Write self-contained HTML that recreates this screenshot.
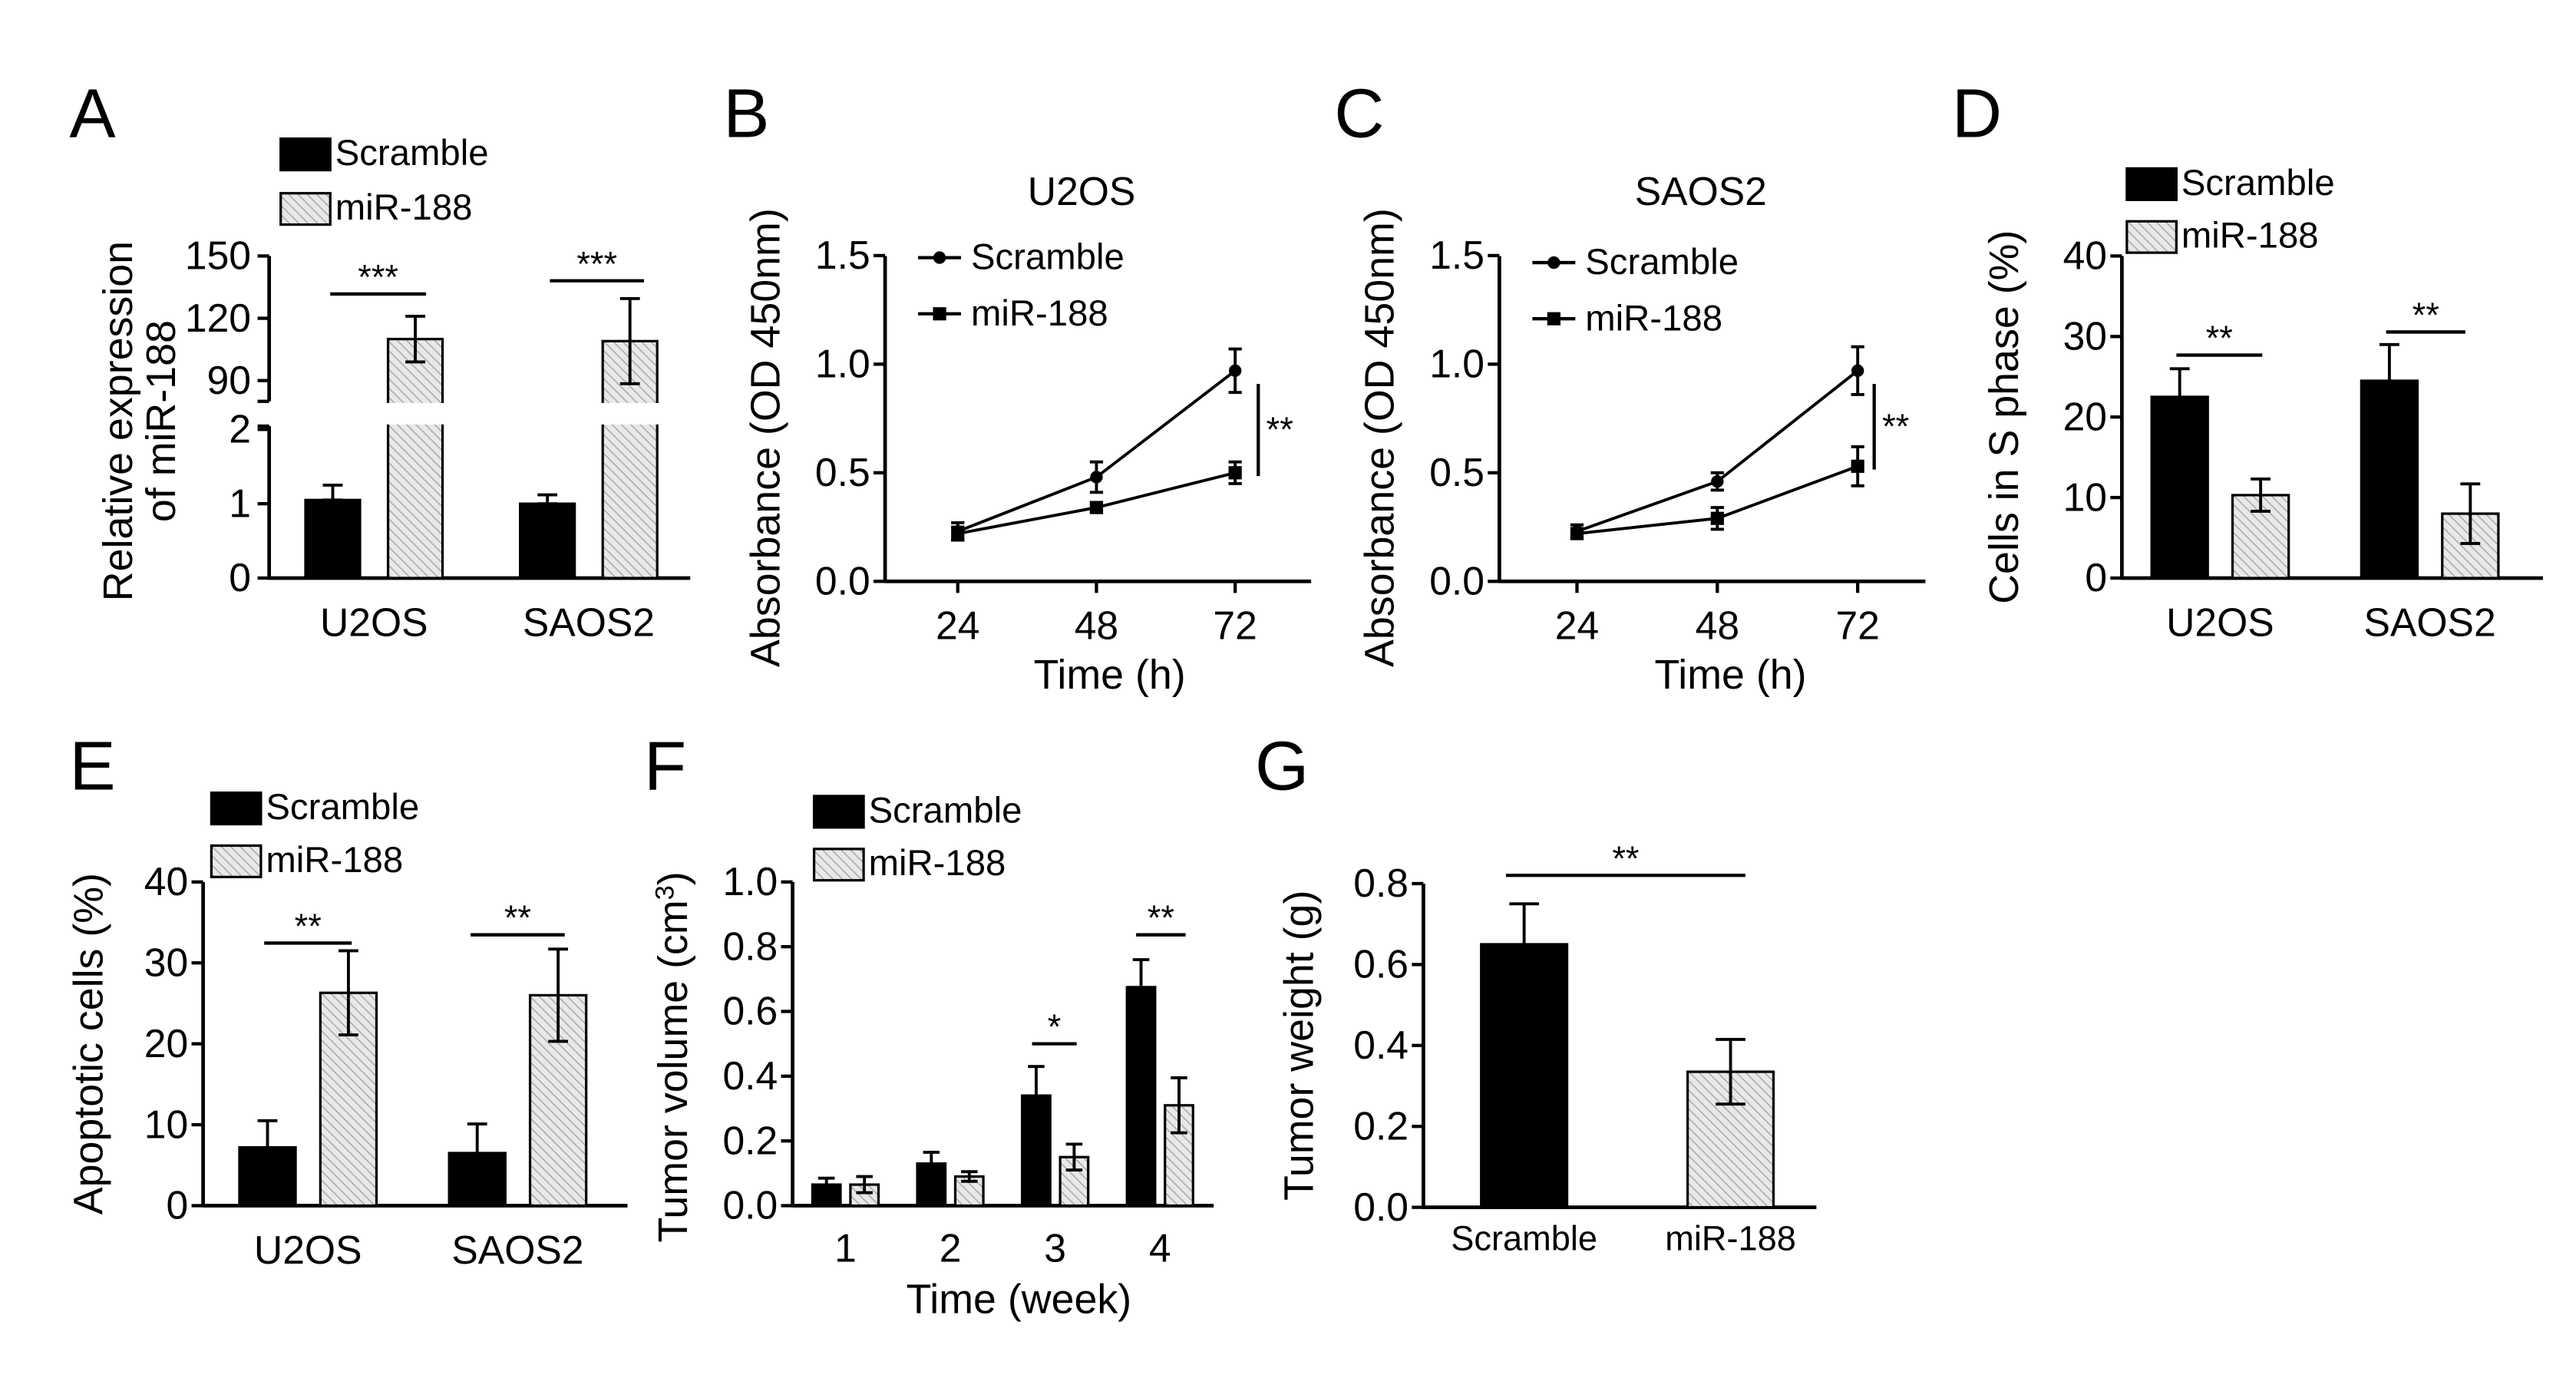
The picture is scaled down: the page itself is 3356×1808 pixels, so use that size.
<!DOCTYPE html>
<html><head><meta charset="utf-8"><style>
html,body{margin:0;padding:0;background:#fff;}
svg{display:block;font-family:"Liberation Sans",Arial,sans-serif;}
</style></head><body>
<svg id="fig" width="3356" height="1808" viewBox="0 0 1560 840.4" preserveAspectRatio="none" xmlns="http://www.w3.org/2000/svg">
<defs>
<pattern id="hatch" width="4" height="4" patternUnits="userSpaceOnUse" patternTransform="rotate(-45)">
<rect width="4" height="4" fill="#e8e8e8"/><line x1="0" y1="0" x2="0" y2="4" stroke="#a8a8a8" stroke-width="1.4"/>
</pattern>
</defs>
</svg>
<script>
// ---- data ----
const aGroups=["U2OS","SAOS2"];
const aScr=[1.05,1.0], aScrErr=[0.2,0.12];
const aMir=[110,109], aMirErr=[11,20.5];
const bTimes=["24","48","72"];
const bScr=[0.23,0.48,0.97], bScrErr=[0.04,0.07,0.1];
const bMir=[0.22,0.34,0.5], bMirErr=[0.03,0.02,0.05];
const cScr=[0.23,0.46,0.97], cScrErr=[0.03,0.04,0.11];
const cMir=[0.22,0.29,0.53], cMirErr=[0.02,0.05,0.09];
const odTicks=["0.0","0.5","1.0","1.5"];
const dScr=[22.5,24.5], dScrErr=[3.5,4.5];
const dMir=[10.3,8.0], dMirErr=[2.0,3.7];
const pctTicks=[0,10,20,30,40];
const eScr=[7.2,6.5], eScrErr=[3.3,3.6];
const eMir=[26.3,26.0], eMirErr=[5.2,5.7];
const fWeeks=["1","2","3","4"];
const fScr=[0.065,0.13,0.34,0.675], fScrErr=[0.02,0.035,0.09,0.085];
const fMir=[0.065,0.09,0.15,0.31], fMirErr=[0.025,0.015,0.04,0.085];
const fTicks=["0.0","0.2","0.4","0.6","0.8","1.0"];
const gLabels=["Scramble","miR-188"];
const gVals=[0.65,0.335], gErr=[0.1,0.08];
const gTicks=["0.0","0.2","0.4","0.6","0.8"];

const TF=24, AF=25, LF=22;
const svg=document.getElementById('fig');
const NS="http://www.w3.org/2000/svg";
function mk(tag,attrs,parent){const e=document.createElementNS(NS,tag);for(const k in attrs)e.setAttribute(k,attrs[k]);(parent||svg).appendChild(e);return e;}
function txt(s,x,y,size,anchor,parent,rot){const t=mk('text',{x:x,y:y,'font-size':size,'text-anchor':anchor||'middle',fill:'#000'},parent);if(rot)t.setAttribute('transform',`rotate(-90 ${x} ${y})`);t.textContent=s;return t;}
function line(x1,y1,x2,y2,w,parent){return mk('line',{x1,y1,x2,y2,stroke:'#000','stroke-width':w||2},parent);}
function errbar(x,y1,y2,cap,parent){line(x,y1,x,y2,1.8,parent);line(x-cap,y1,x+cap,y1,1.8,parent);line(x-cap,y2,x+cap,y2,1.8,parent);}
function panel(name){const g=mk('g',{});return g;}
function letter(s,x,y){const t=txt(s,x,y,42,'start');}
function legendBars(g,x,y1,y2,fs){
 const r1=mk('rect',{x:x,y:y1-16,width:30,height:19,fill:'#000',stroke:'#000','stroke-width':1.5},g);
 
 const t1=txt('Scramble',x+33,y1,fs,'start',g);
 const r2=mk('rect',{x:x,y:y2-16,width:30,height:19,fill:'url(#hatch)',stroke:'#000','stroke-width':1.5},g);
 
 const t2=txt('miR-188',x+33,y2,fs,'start',g);
}
function bar(g,x,w,ytop,ybase,hatched,name){const r=mk('rect',{x:x,y:ytop,width:w,height:ybase-ytop,fill:hatched?'url(#hatch)':'#000',stroke:'#000','stroke-width':1.5},g);return r;}
function sig(g,x1,x2,y,s){line(x1,y,x2,y,2,g);const t=txt(s,(x1+x2)/2,y-3,21,'middle',g);}
function yAxis(g,x,yTop,yBot,ticks,yFn,fs){line(x,yTop,x,yBot,2.2,g);ticks.forEach(t=>{const y=yFn(+t);line(x-7,y,x,y,2,g);const l=txt(String(t),x-9,y+8,fs,'end',g);});}

// ---- Panel A ----
(function(){
 const g=panel('panel-a');letter('A',42,83);
 const x0=163, base=350;
 const yLow=v=>base-v*45;
 const yHigh=v=>243-(v-80)*(243-155)/70;
 const ax=mk('g',{},g);
 line(x0,258,x0,base+1,2.2,ax);line(x0,155,x0,243,2.2,ax);
 line(x0-7,243,x0,243,2,ax);line(x0-7,258,x0,258,2,ax);
 [0,1,2].forEach(v=>{const y=yLow(v);line(x0-7,y,x0,y,2,ax);txt(String(v),x0-11,y+8,TF,'end',ax);});
 [90,120,150].forEach(v=>{const y=yHigh(v);line(x0-7,y,x0,y,2,ax);txt(String(v),x0-11,y+8,TF,'end',ax);});
 line(x0,base,418,base,2.2,g);
 const gx=[185,315];
 aGroups.forEach((nm,i)=>{
  const sx=gx[i], mx=gx[i]+50, w=33;
  bar(g,sx,w,yLow(aScr[i]),base,false,'bar-scramble-'+nm.toLowerCase());
  errbar(sx+w/2,yLow(aScr[i]+aScrErr[i]),yLow(aScr[i]),6,g);
  bar(g,mx,w,yHigh(aMir[i]),base,true,'bar-mir188-'+nm.toLowerCase());
  mk('rect',{x:mx-1,y:244,width:w+2,height:13,fill:'#fff'},g);
  errbar(mx+w/2,yHigh(aMir[i]+aMirErr[i]),yHigh(aMir[i]-aMirErr[i]),6,g);
  const l=txt(nm,(sx+mx+w)/2,385,TF,'middle',g);
 });
 sig(g,200,258,178,'***');sig(g,333,390,170,'***');
 legendBars(g,170,100,133,LF);
 const y1=txt('Relative expression',80,255,AF,'middle',g,true);
 txt('of miR-188',106,255,AF,'middle',g,true);
})();

// ---- Line panels B, C ----
function linePanel(name,L,x0,xt,title,titleX,scr,scrE,mir,mirE,brX,legY1,legY2){
 const g=panel(name);
 const base=352, y=v=>base-v*131.5;
 const ax=mk('g',{},g);
 yAxis(ax,x0,155,base+1,odTicks,y,TF);
 line(x0,base,x0+258,base,2.2,g);
 const xs=i=>xt[0]+i*(xt[1]-xt[0]);
 bTimes.forEach((t,i)=>{line(xs(i),base,xs(i),base+7,2,g);const l=txt(t,xs(i),387,TF,'middle',g);});
 const xt1=txt('Time (h)',(xs(0)+xs(2))/2+8,417,AF,'middle',g);
 const yt=txt('Absorbance (OD 450nm)',x0-64,265,AF,'middle',g,true);
 const tt=txt(title,titleX,124,TF,'middle',g);
 const p1=mk('polyline',{points:scr.map((v,i)=>xs(i)+','+y(v)).join(' '),fill:'none',stroke:'#000','stroke-width':1.8},g);
 
 const p2=mk('polyline',{points:mir.map((v,i)=>xs(i)+','+y(v)).join(' '),fill:'none',stroke:'#000','stroke-width':1.8},g);
 
 scr.forEach((v,i)=>{errbar(xs(i),y(v+scrE[i]),y(v-scrE[i]),4,g);const c=mk('circle',{cx:xs(i),cy:y(v),r:3.8,fill:'#000'},g);});
 mir.forEach((v,i)=>{errbar(xs(i),y(v+mirE[i]),y(v-mirE[i]),4,g);const r=mk('rect',{x:xs(i)-4,y:y(v)-4,width:8,height:8,fill:'#000'},g);});
 line(brX,y(scr[2])+8,brX,y(mir[2])+2,2,g);txt('**',brX+13,y((scr[2]+mir[2])/2)+12,21,'middle',g);
 const lx=x0+20;
 line(lx,legY1-7,lx+26,legY1-7,2,g);mk('circle',{cx:lx+13,cy:legY1-7,r:3.8,fill:'#000'},g);
 const l1=txt('Scramble',lx+32,legY1,LF,'start',g);
 line(lx,legY2-7,lx+26,legY2-7,2,g);mk('rect',{x:lx+9,y:legY2-11,width:8,height:8,fill:'#000'},g);
 const l2=txt('miR-188',lx+32,legY2,LF,'start',g);
 letter(L,L==='B'?438:808,83);
}
linePanel('panel-b','B',536,[580,664],'U2OS',655,bScr,bScrErr,bMir,bMirErr,762,163,197);
linePanel('panel-c','C',908,[955,1040],'SAOS2',1030,cScr,cScrErr,cMir,cMirErr,1135,166,200);

// ---- grouped bar panels D, E ----
function groupPanel(name,L,lx,ly,x0,base,top,xEnd,scr,scrE,mir,mirE,gx,w,title,titleX,sigs,leg){
 const g=panel(name);letter(L,lx,ly);
 const y=v=>base-v*(base-top)/40;
 const ax=mk('g',{},g);
 yAxis(ax,x0,top,base+1,pctTicks,y,TF);
 line(x0,base,xEnd,base,2.2,g);
 aGroups.forEach((nm,i)=>{
  const sx=gx[i], mx=gx[i]+49;
  bar(g,sx,w,y(scr[i]),base,false,'bar-scramble-'+nm.toLowerCase());
  errbar(sx+w/2,y(scr[i]+scrE[i]),y(scr[i]-scrE[i]),6,g);
  bar(g,mx,w,y(mir[i]),base,true,'bar-mir188-'+nm.toLowerCase());
  errbar(mx+w/2,y(mir[i]+mirE[i]),y(mir[i]-mirE[i]),6,g);
  const l=txt(nm,(sx+mx+w)/2,base+35,TF,'middle',g);
 });
 sigs.forEach(s=>sig(g,s[0],s[1],s[2],'**'));
 legendBars(g,leg[0],leg[1],leg[2],LF);
 const yt=txt(title,titleX,(top+base)/2,AF,'middle',g,true);
}
groupPanel('panel-d','D',1182,83,1285,350,155,1540,dScr,dScrErr,dMir,dMirErr,[1303,1430],34,'Cells in S phase (%)',1222,[[1318,1370,215],[1445,1493,201]],[1288,118,150]);
groupPanel('panel-e','E',42,478,123,730,534,380,eScr,eScrErr,eMir,eMirErr,[145,272],34,'Apoptotic cells (%)',62,[[160,213,571],[285,342,566]],[128,496,528]);

// ---- Panel F ----
(function(){
 const g=panel('panel-f');letter('F',390,478);
 const x0=480, base=730, top=534, y=v=>base-v*(base-top);
 const ax=mk('g',{},g);
 yAxis(ax,x0,top,base+1,fTicks,y,TF);
 line(x0,base,735,base,2.2,g);
 const cx=i=>512+i*63.5;
 fWeeks.forEach((wk,i)=>{
  const c=cx(i);
  bar(g,c-20,17,y(fScr[i]),base,false,'bar-scramble-week'+wk);
  errbar(c-11.5,y(fScr[i]+fScrErr[i]),y(fScr[i]-fScrErr[i]),5,g);
  bar(g,c+3,17,y(fMir[i]),base,true,'bar-mir188-week'+wk);
  errbar(c+11.5,y(fMir[i]+fMirErr[i]),y(fMir[i]-fMirErr[i]),5,g);
  const l=txt(wk,c,764,TF,'middle',g);
 });
 sig(g,625,652,632,'*');sig(g,688,718,566,'**');
 const xt=txt('Time (week)',617,795,AF,'middle',g);
 const yt=mk('text',{x:416,y:640,'font-size':AF,'text-anchor':'middle',transform:'rotate(-90 416 640)'},g);
 
 yt.innerHTML='Tumor volume (cm<tspan dy="-8" font-size="16">3</tspan><tspan dy="8">)</tspan>';
 legendBars(g,493,498,530,LF);
})();

// ---- Panel G ----
(function(){
 const g=panel('panel-g');letter('G',760,478);
 const x0=862, base=731, top=535, y=v=>base-v*(base-top)/0.8;
 const ax=mk('g',{},g);
 yAxis(ax,x0,top,base+1,gTicks,y,TF);
 line(x0,base,1100,base,2.2,g);
 const bx=[897,1022];
 gLabels.forEach((nm,i)=>{
  bar(g,bx[i],52,y(gVals[i]),base,i===1,'bar-'+nm.toLowerCase());
  errbar(bx[i]+26,y(gVals[i]+gErr[i]),y(gVals[i]-gErr[i]),9,g);
  const l=txt(nm,bx[i]+26,757,21,'middle',g);
 });
 sig(g,912,1057,530,'**');
 const yt=txt('Tumor weight (g)',795,633,AF,'middle',g,true);
})();
</script>
</body></html>
